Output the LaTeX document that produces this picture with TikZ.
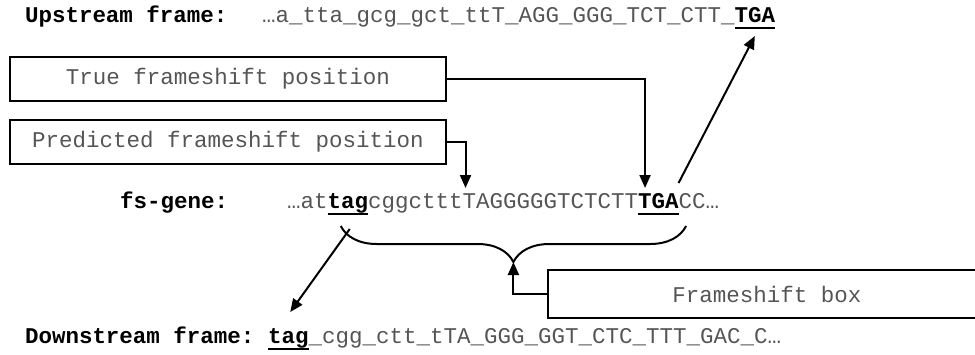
\documentclass[tikz,border=0pt]{standalone}
\usepackage{fontspec}
\setmonofont{Liberation Mono}
\usetikzlibrary{arrows.meta,decorations.pathreplacing,calc}
\definecolor{seqgray}{HTML}{555555}
\newcommand\seqfont{\ttfamily\fontsize{22.5}{27}\selectfont}
% bold codon with a thick underline
\newcommand\ulb[1]{{\setbox0=\hbox{\bfseries\color{black}#1}\rlap{\color{black}\rule[-7.3pt]{\wd0}{2.6pt}}\box0}}
\begin{document}
\begin{tikzpicture}[x=1pt,y=1pt,
  seq/.style={font=\seqfont, text=seqgray, inner sep=0pt, outer sep=0pt, anchor=base west},
  lab/.style={font=\seqfont\bfseries, text=black, inner sep=0pt, outer sep=0pt, anchor=base west},
  codon/.style={seq, text=black},
  box/.style={draw=black, line width=2.5pt, font=\seqfont, text=seqgray, inner sep=0pt, minimum height=44pt},
  arr/.style={line width=2pt, -{Triangle[length=13pt,width=11pt]}},
  bracestyle/.style={line width=2pt, decorate, decoration={brace, mirror, amplitude=36pt}}]
\useasboundingbox (0,0) rectangle (975,-354);

% upstream reading frame
\node[lab] (uplab) at (25,-22) {Upstream frame:};
\node[seq] (up1) at (262,-22) {…a\_tta\_gcg\_gct\_ttT\_AGG\_GGG\_TCT\_CTT\_};
\node[codon] (uptga) at (up1.base east) {\ulb{TGA}};

% annotation boxes
\node[box, minimum width=436pt] (truebox) at (228,-79) {True frameshift position};
\node[box, minimum width=436pt] (predbox) at (228,-142) {Predicted frameshift position};
\node[box, minimum width=438pt, minimum height=48pt] (fsbox) at (767,-294) {Frameshift box};

% fs-gene sequence
\node[lab] (fslab) at (120,-208) {fs-gene:};
\node[seq] (fs1) at (287,-208) {…at};
\node[codon] (fstag) at (fs1.base east) {\ulb{tag}};
\node[seq] (fs2) at (fstag.base east) {cggcttt};
\node[seq] (fs3) at (fs2.base east) {TAGGGGGTCTCTT};
\node[codon] (fstga) at (fs3.base east) {\ulb{TGA}};
\node[seq] (fs4) at (fstga.base east) {CC…};

% downstream reading frame
\node[lab] (dnlab) at (25,-343) {Downstream frame:};
\node[codon] (dntag) at (268,-343) {\ulb{tag}};
\node[seq] (dn1) at (dntag.base east) {\_cgg\_ctt\_tTA\_GGG\_GGT\_CTC\_TTT\_GAC\_C…};

% brace spanning the frameshift region
\coordinate (bl) at ([xshift=-7pt,yshift=-18pt]fstag.base);
\coordinate (br) at ([xshift=7.5pt,yshift=-18pt]fstga.base east);
\coordinate (btip) at ($(bl)!0.5!(br)+(0,-36)$);
\draw[bracestyle] (bl) -- (br);

% connectors
\draw[arr] (truebox.east) -| ([xshift=7pt,yshift=20pt]fstga.base west);
\draw[arr] (predbox.east) -| ([xshift=3pt,yshift=20pt]fs3.base west);
\draw[arr] ([yshift=25pt]fstga.base east) -- ([yshift=-14pt]uptga.base);
\draw[arr] ([xshift=2pt,yshift=-21pt]fstag.base) -- ([xshift=2pt,yshift=31pt]dntag.base);
\draw[arr] (fsbox.west) -| (btip);
\end{tikzpicture}
\end{document}
